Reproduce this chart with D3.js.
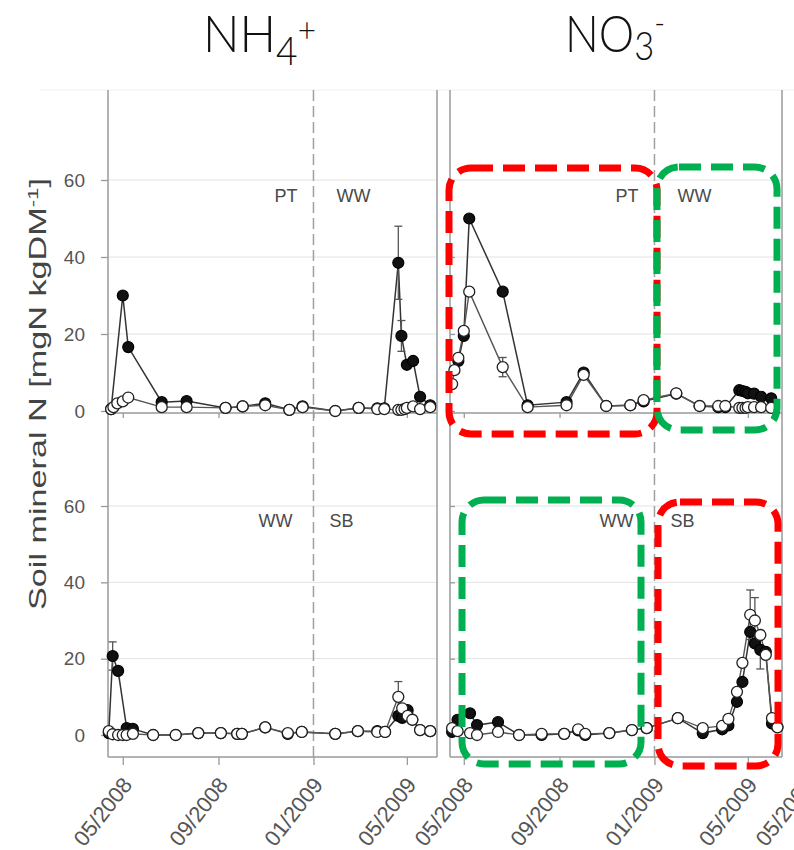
<!DOCTYPE html>
<html><head><meta charset="utf-8">
<script src="https://cdn.jsdelivr.net/npm/d3@7"></script>
<style>body{margin:0;background:#fff}svg{display:block}</style>
</head><body>
<script>
// ---------- data ----------
const tickDates = ["2008-05-01","2008-09-01","2009-01-01","2009-05-01"];
const tickLabels = ["05/2008","09/2008","01/2009","05/2009"];
const yTicks = [0,20,40,60];
const columnTitles = [["NH","4","+"],["NO","3","-"]];
const cropLabelsTop = ["PT","WW"];
const cropLabelsBottom = ["WW","SB"];

const datesTop = ["2008-04-16","2008-04-19","2008-04-24","2008-05-01","2008-05-08","2008-06-20","2008-07-22","2008-09-10","2008-10-02","2008-10-31","2008-12-01","2008-12-18","2009-01-29","2009-02-28","2009-03-24","2009-04-02","2009-04-20","2009-04-24","2009-04-28","2009-05-01","2009-05-09","2009-05-18","2009-05-31"];
const nh4TopFilled = [0.5,null,null,30,16.6,2.3,2.6,0.8,1.2,2,0.3,1.2,0,0.8,0.7,0.7,38.5,19.5,null,12,13,3.7,1.5];
const nh4TopOpen   = [0.5,1,2,2.5,3.5,1,1,0.8,1.2,1.5,0.3,1,0,0.8,0.5,0.5,0.3,0.3,0.5,0.8,1.2,0.5,1.0];
const no3TopFilled = [null,null,13,19.5,50,31,1.5,2.3,10,1.3,1.5,2.5,4.5,1.3,1.0,1.0,5.4,5.2,5,4.6,4.5,3.7,3.3];
const no3TopOpen   = [7,10.6,13.8,20.8,31,11.4,1,1.5,9.4,1.3,1.5,2.8,4.6,1.3,1.3,1.3,0.8,0.8,0.8,1,1,1,0.8];

const datesNH4Bottom = ["2008-04-13","2008-04-18","2008-04-25","2008-05-01","2008-05-06","2008-05-14","2008-06-09","2008-07-08","2008-08-06","2008-09-04","2008-09-25","2008-10-01","2008-10-31","2008-11-29","2008-12-17","2009-01-29","2009-02-27","2009-03-24","2009-04-03","2009-04-20","2009-04-25","2009-05-02","2009-05-08","2009-05-18","2009-05-31"];
const nh4BottomFilled = [0.5,20.7,16.8,null,1.8,1.6,0,0,0.5,0.5,0.3,0.3,2,0.3,0.8,0.3,1,1,0.8,5,4.5,6.5,4,1.3,1];
const nh4BottomOpen   = [1,0.2,0,0,0,0.3,0,0,0.5,0.5,0.3,0.3,2,0.5,0.8,0.3,1,0.8,0.8,10,7,5,4,1.3,1];

const datesNO3Bottom = ["2008-04-16","2008-04-23","2008-05-09","2008-05-18","2008-06-14","2008-07-11","2008-08-09","2008-09-07","2008-09-25","2008-10-04","2008-11-04","2008-12-03","2008-12-22","2009-01-31","2009-03-04","2009-03-29","2009-04-06","2009-04-17","2009-04-24","2009-05-04","2009-05-10","2009-05-17","2009-05-24","2009-06-01","2009-06-08"];
const no3BottomFilled = [0.8,4,5.7,2.6,3.4,0,0,0.3,1.2,0,0.5,1.3,1.8,4.4,0.5,1.5,2.5,8.7,13.9,27,24,22.3,21.8,3,2.1];
const no3BottomOpen   = [1.8,1,0.5,0,0.8,0,0.3,0.3,1.5,0.3,0.5,1.3,1.8,4.4,1.8,2.4,4.2,11.3,18.9,31.5,30,26.2,21,4.4,2];

// error bars: [date, series, value, error]
const errNH4Top = [["2009-04-20","filled",38.5,9.5],["2009-04-24","filled",19.5,4]];
const errNO3Top = [["2008-06-20","open",11.4,2.5]];
const errNH4Bottom = [["2008-04-18","filled",20.7,3.7],["2009-04-20","open",10,4]];
const errNO3Bottom = [["2009-05-04","open",31.5,6.5],["2009-05-10","open",30,6],["2009-05-17","filled",22.3,5]];

// ---------- setup ----------
const W=794,H=850;
const FONT="'Liberation Sans', Arial, sans-serif";
const svg=d3.select("body").append("svg").attr("width",W).attr("height",H).style("font-family",FONT);
const parse=d3.timeParse("%Y-%m-%d");
const domain=[parse("2008-04-12"),parse("2009-06-10")];
const xL=d3.scaleTime().domain(domain).range([108,438]);
const xR=d3.scaleTime().domain(domain).range([449,779]);
const x3=d3.scaleTime().domain(domain).range([790,1120]);
const yTop=d3.scaleLinear().domain([0,60]).range([411,180]);
const yBot=d3.scaleLinear().domain([0,60]).range([735,506]);
const frameTop=90, topAxisY=413, bottomAxisY=757;
const frames=[{x:xL,left:108,right:437},{x:xR,left:450,right:782}];

// faint top line
svg.append("line").attr("x1",40).attr("x2",794).attr("y1",frameTop).attr("y2",frameTop).attr("stroke","#f0f0f0");

// gridlines
frames.forEach(f=>{
  [yTop,yBot].forEach(y=>{
    svg.append("g").selectAll("line").data([20,40,60]).join("line")
      .attr("x1",f.left).attr("x2",f.right).attr("y1",d=>y(d)).attr("y2",d=>y(d))
      .attr("stroke","#e2e2e2").attr("stroke-width",1);
  });
});

// frames
frames.forEach(f=>{
  const g=svg.append("g").attr("stroke","#9a9a9a").attr("stroke-width",1.5);
  g.append("line").attr("x1",f.left).attr("x2",f.left).attr("y1",frameTop).attr("y2",bottomAxisY);
  g.append("line").attr("x1",f.right).attr("x2",f.right).attr("y1",frameTop).attr("y2",bottomAxisY);
  g.append("line").attr("x1",f.left).attr("x2",f.right).attr("y1",topAxisY).attr("y2",topAxisY);
  g.append("line").attr("x1",f.left).attr("x2",f.right).attr("y1",bottomAxisY).attr("y2",bottomAxisY);
  svg.append("line").attr("x1",f.x(parse("2009-01-01"))).attr("x2",f.x(parse("2009-01-01")))
    .attr("y1",frameTop).attr("y2",bottomAxisY).attr("stroke","#a0a0a0").attr("stroke-width",1.5)
    .attr("stroke-dasharray","11,5");
});

// x axes
function styleAxis(g){g.select(".domain").remove();g.selectAll(".tick line").attr("stroke","#9a9a9a").attr("stroke-width",1.3);}
function styleLabels(ax){
  ax.selectAll(".tick text").attr("x",0).attr("y",0).attr("dy",0)
    .attr("text-anchor","end").attr("transform","translate(10,28) rotate(-52)")
    .attr("fill","#555").style("font-size","22px").style("font-family",FONT);
}
frames.forEach(f=>{
  svg.append("g").attr("transform",`translate(0,${topAxisY})`)
    .call(d3.axisBottom(f.x).tickValues(tickDates.map(parse)).tickSize(5).tickFormat(""))
    .call(styleAxis);
  const ax=svg.append("g").attr("transform",`translate(0,${bottomAxisY})`)
    .call(d3.axisBottom(f.x).tickValues(tickDates.map(parse)).tickSize(8).tickFormat((d,i)=>tickLabels[i]))
    .call(styleAxis);
  styleLabels(ax);
});
// partial label of the next (cropped) panel, as in the reference
const ax3=svg.append("g").attr("transform",`translate(0,${bottomAxisY})`)
  .call(d3.axisBottom(x3).tickValues([parse(tickDates[0])]).tickSize(8).tickFormat(()=>tickLabels[0]))
  .call(styleAxis);
styleLabels(ax3);

// y axes
[yTop,yBot].forEach(y=>{
  const ay=svg.append("g").attr("transform","translate(108,0)")
    .call(d3.axisLeft(y).tickValues(yTicks).tickSize(7)).call(styleAxis);
  ay.selectAll(".tick text").attr("x",-23).attr("fill","#555").style("font-size","19px").style("font-family",FONT);
  svg.append("g").attr("transform","translate(450,0)")
    .call(d3.axisRight(y).tickValues(yTicks).tickSize(5).tickFormat("")).call(styleAxis);
});

// crop labels
function cropLabels(f,y,labels,offL,offR){
  const xd=f.x(parse("2009-01-01"));
  svg.append("text").attr("x",xd-offL).attr("y",y).attr("text-anchor","end").attr("fill","#4a4a4a").style("font-size","18px").text(labels[0]);
  svg.append("text").attr("x",xd+offR).attr("y",y).attr("text-anchor","start").attr("fill","#4a4a4a").style("font-size","18px").text(labels[1]);
}
frames.forEach(f=>{cropLabels(f,202,cropLabelsTop,16,23);cropLabels(f,527,cropLabelsBottom,21,16);});

// series
function drawPanel(x,y,dates,filled,open,errs){
  const mk=vals=>dates.map((d,i)=>({date:parse(d),v:vals[i]})).filter(p=>p.v!=null);
  const F=mk(filled),O=mk(open);
  const line=d3.line().x(p=>x(p.date)).y(p=>y(p.v));
  const g=svg.append("g");
  g.append("path").datum(F).attr("d",line).attr("fill","none").attr("stroke","#333").attr("stroke-width",1.5);
  g.append("path").datum(O).attr("d",line).attr("fill","none").attr("stroke","#555").attr("stroke-width",1.4);
  errs.forEach(([d,s,v,e])=>{
    const xx=x(parse(d));
    g.append("line").attr("x1",xx).attr("x2",xx).attr("y1",y(v-e)).attr("y2",y(v+e)).attr("stroke","#555").attr("stroke-width",1.3);
    [v-e,v+e].forEach(t=>g.append("line").attr("x1",xx-4).attr("x2",xx+4).attr("y1",y(t)).attr("y2",y(t)).attr("stroke","#555").attr("stroke-width",1.3));
  });
  g.append("g").selectAll("circle").data(F).join("circle")
    .attr("cx",p=>x(p.date)).attr("cy",p=>y(p.v)).attr("r",5.5)
    .attr("fill","#111").attr("stroke","#000").attr("stroke-width",1.2);
  g.append("g").selectAll("circle").data(O).join("circle")
    .attr("cx",p=>x(p.date)).attr("cy",p=>y(p.v)).attr("r",5.5)
    .attr("fill","#fff").attr("stroke","#222").attr("stroke-width",1.3);
}
drawPanel(xL,yTop,datesTop,nh4TopFilled,nh4TopOpen,errNH4Top);
drawPanel(xR,yTop,datesTop,no3TopFilled,no3TopOpen,errNO3Top);
drawPanel(xL,yBot,datesNH4Bottom,nh4BottomFilled,nh4BottomOpen,errNH4Bottom);
drawPanel(xR,yBot,datesNO3Bottom,no3BottomFilled,no3BottomOpen,errNO3Bottom);

// y axis title
const yt=svg.append("text").attr("text-anchor","middle").attr("fill","#444").style("font-size","23px");
yt.append("tspan").text("Soil mineral N [mgN kgDM");
yt.append("tspan").attr("dy",-8).style("font-size","15px").text("-1");
yt.append("tspan").attr("dy",8).text("]");
const ylen=yt.node().getComputedTextLength();
yt.attr("transform",`translate(46,394) rotate(-90) scale(${432/ylen},1)`);

// column titles
function title(parts,x0,targetW,subDy,supDy){
  const t=svg.append("text").attr("y",52).attr("fill","#111")
    .style("font-family","Lato, 'Noto Sans', sans-serif").style("font-weight",300).style("font-size","52px");
  t.append("tspan").text(parts[0]);
  t.append("tspan").attr("dy",subDy).style("font-size","40px").text(parts[1]);
  t.append("tspan").attr("dy",supDy).style("font-size","34px").text(parts[2]);
  const bb=t.node().getBBox();
  t.attr("transform",`translate(${x0},0) scale(${targetW/bb.width},1) translate(${-bb.x},0)`);
}
title(columnTitles[0],203,113,13,-23);
title(columnTitles[1],565,100,8,-25);

// highlight boxes
const boxes=[
  {x:449,y:168,w:208,h:266,c:"#ff0000"},
  {x:657,y:167,w:120,h:263,c:"#00b050"},
  {x:462,y:500,w:179,h:264,c:"#00b050"},
  {x:658,y:502,w:120,h:264,c:"#ff0000"}
];
svg.append("g").selectAll("rect").data(boxes).join("rect")
  .attr("x",d=>d.x).attr("y",d=>d.y).attr("width",d=>d.w).attr("height",d=>d.h)
  .attr("rx",22).attr("ry",22).attr("fill","none").attr("stroke",d=>d.c)
  .attr("stroke-width",7).attr("stroke-dasharray","22,10");
</script>
</body></html>
